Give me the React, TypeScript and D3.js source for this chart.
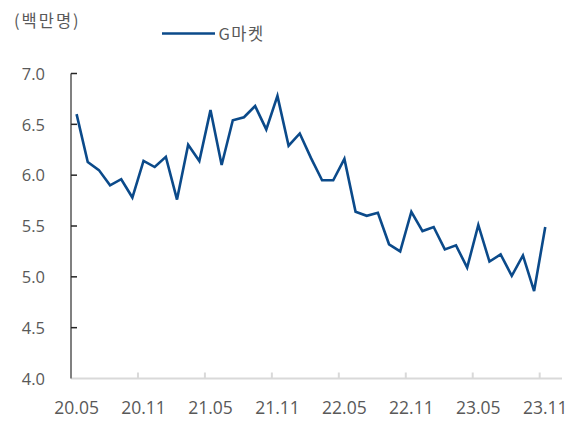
import React, { useRef, useEffect } from "react";
import * as d3 from "d3";

// monthly, 2020.05 ~ 2023.11 (백만명)
const months = [
  "20.05", "20.06", "20.07", "20.08", "20.09", "20.10", "20.11", "20.12",
  "21.01", "21.02", "21.03", "21.04", "21.05", "21.06", "21.07", "21.08",
  "21.09", "21.10", "21.11", "21.12", "22.01", "22.02", "22.03", "22.04",
  "22.05", "22.06", "22.07", "22.08", "22.09", "22.10", "22.11", "22.12",
  "23.01", "23.02", "23.03", "23.04", "23.05", "23.06", "23.07", "23.08",
  "23.09", "23.10", "23.11",
];
const gmarket = [
  6.6, 6.13, 6.05, 5.9, 5.96, 5.78, 6.14, 6.08, 6.18, 5.76, 6.3, 6.14,
  6.64, 6.1, 6.54, 6.57, 6.68, 6.45, 6.78, 6.29, 6.41, 6.17, 5.95, 5.95,
  6.16, 5.64, 5.6, 5.63, 5.32, 5.25, 5.64, 5.45, 5.49, 5.27, 5.31, 5.09,
  5.51, 5.15, 5.22, 5.01, 5.21, 4.86, 5.49,
];
const xTickLabels = ["20.05", "20.11", "21.05", "21.11", "22.05", "22.11", "23.05", "23.11"];
const yTicks = [4.0, 4.5, 5.0, 5.5, 6.0, 6.5, 7.0];

const W = 577;
const H = 421;
const margin = { top: 73.5, right: 15, bottom: 42.5, left: 71 };
const FONT = "'Open Sans', 'Noto Sans CJK KR', sans-serif";
const KFONT = "'Noto Sans CJK KR', 'Open Sans', sans-serif";
const TEXT = "#595959";
const LINE = "#0b4a8a";

export default function App() {
  const svgRef = useRef<SVGSVGElement>(null);

  useEffect(() => {
    const svg = d3.select(svgRef.current);
    svg.selectAll("*").remove();

    const innerRight = W - margin.right;
    // one empty slot after the last month, as in the source chart
    const bw = (innerRight - margin.left) / (months.length + 1);
    const x = d3
      .scaleBand<string>()
      .domain(months)
      .range([margin.left, margin.left + bw * months.length])
      .paddingInner(0)
      .paddingOuter(0);
    const y = d3
      .scaleLinear()
      .domain([4, 7])
      .range([H - margin.bottom, margin.top]);

    const y0 = y(4);

    // x axis
    svg
      .append("line")
      .attr("x1", margin.left)
      .attr("x2", innerRight)
      .attr("y1", y0)
      .attr("y2", y0)
      .attr("stroke", "#d9d9d9")
      .attr("stroke-width", 2);

    xTickLabels.forEach((m) => {
      const xs = x(m)!;
      if (m !== months[0]) {
        svg
          .append("line")
          .attr("x1", xs)
          .attr("x2", xs)
          .attr("y1", y0)
          .attr("y2", y0 - 6)
          .attr("stroke", "#d9d9d9")
          .attr("stroke-width", 2);
      }
      svg
        .append("text")
        .attr("x", xs + x.bandwidth() / 2)
        .attr("y", y0 + 35)
        .attr("text-anchor", "middle")
        .attr("font-family", FONT)
        .attr("font-size", 17.5)
        .attr("fill", TEXT)
        .text(m);
    });

    // y axis
    svg
      .append("line")
      .attr("x1", margin.left)
      .attr("x2", margin.left)
      .attr("y1", y(7))
      .attr("y2", y0)
      .attr("stroke", "#808080")
      .attr("stroke-width", 2);

    yTicks.forEach((t) => {
      if (t > 4) {
        svg
          .append("line")
          .attr("x1", margin.left)
          .attr("x2", margin.left + 6)
          .attr("y1", y(t))
          .attr("y2", y(t))
          .attr("stroke", "#262626")
          .attr("stroke-width", 1.5);
      }
      svg
        .append("text")
        .attr("x", 45)
        .attr("y", y(t) + 6.3)
        .attr("text-anchor", "end")
        .attr("font-family", FONT)
        .attr("font-size", 16.5)
        .attr("fill", TEXT)
        .text(t.toFixed(1));
    });

    // series
    const line = d3
      .line<number>()
      .x((_, i) => x(months[i])! + x.bandwidth() / 2)
      .y((d) => y(d));
    svg
      .append("path")
      .datum(gmarket)
      .attr("fill", "none")
      .attr("stroke", LINE)
      .attr("stroke-width", 2.6)
      .attr("stroke-linejoin", "miter")
      .attr("d", line);

    // unit label
    svg
      .append("text")
      .attr("x", 14)
      .attr("y", 27)
      .attr("font-family", KFONT)
      .attr("font-size", 16.5)
      .attr("letter-spacing", 2)
      .attr("fill", TEXT)
      .text("(백만명)");

    // legend
    svg
      .append("line")
      .attr("x1", 162)
      .attr("x2", 215)
      .attr("y1", 33.5)
      .attr("y2", 33.5)
      .attr("stroke", LINE)
      .attr("stroke-width", 2.6);
    svg
      .append("text")
      .attr("x", 218.5)
      .attr("y", 39.5)
      .attr("font-family", KFONT)
      .attr("font-size", 16.5)
      .attr("letter-spacing", 1.5)
      .attr("fill", TEXT)
      .text("G마켓");
  }, []);

  return (
    <svg
      ref={svgRef}
      width={W}
      height={H}
      style={{ position: "absolute", left: 0, top: 0, background: "#fff" }}
    />
  );
}
